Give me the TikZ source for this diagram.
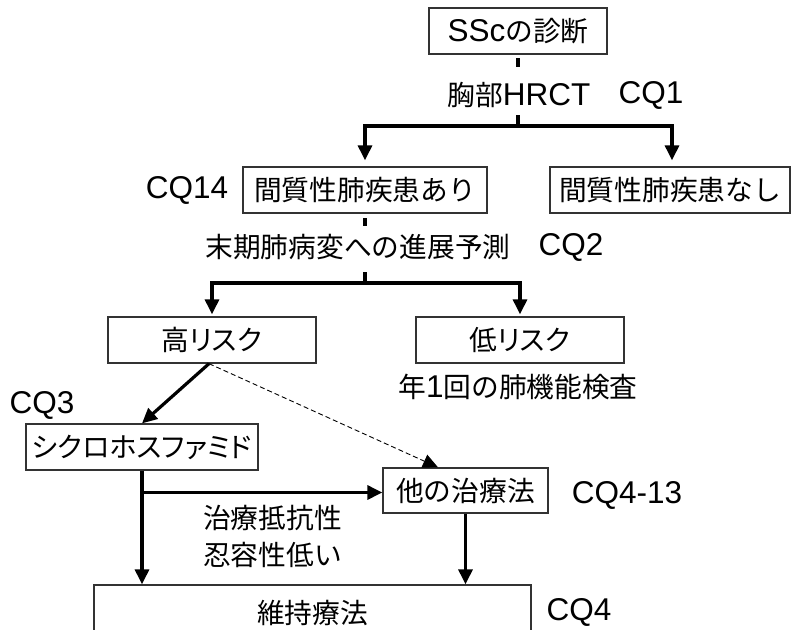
\documentclass[tikz,border=0pt]{standalone}
\usepackage{fontspec}
\setmainfont{Liberation Sans}
\newfontfamily\jp[Scale=0.88]{Noto Sans CJK JP}
\newfontfamily\jpp[Scale=0.88,RawFeature=+palt]{Noto Sans CJK JP}
\usetikzlibrary{arrows.meta}
\begin{document}
\begin{tikzpicture}[x=1pt,y=-1pt,
  every node/.style={font=\fontsize{31.5}{37}\selectfont, inner sep=0pt},
  box/.style={draw=black!80, line width=1.3pt, minimum height=46pt},
  conn/.style={line width=3.2pt, -{Triangle[length=15pt,width=14pt]}},
  tick/.style={line width=3.2pt},
  hint/.style={line width=0.9pt, dash pattern=on 5pt off 3pt, -{Triangle[length=15pt,width=14pt]}},
]
\useasboundingbox (0,0) rectangle (792,629);

% boxes and labels
\node[box, minimum width=178pt] (ssc) at (518,31) {SSc{\jp の診断}};
\node (hrct) at (519,95) {{\jp 胸部}HRCT};
\node (cq1) at (651,95) {CQ1};
\node[box, minimum width=244pt] (ari) at (365,190) {\jp 間質性肺疾患あり};
\node[box, minimum width=240pt] (nashi) at (670,190) {\jp 間質性肺疾患なし};
\node (cq14) at (187,190) {CQ14};
\node (prog) at (358,247) {\jp 末期肺病変への進展予測};
\node (cq2) at (571,247) {CQ2};
\node[box, minimum width=208pt] (high) at (212,340) {\jpp 高リスク};
\node[box, minimum width=208pt] (low) at (520,340) {\jpp 低リスク};
\node (annual) at (518,387) {{\jp 年}1{\jp 回の肺機能検査}};
\node (cq3) at (42,405) {CQ3};
\node[box, minimum width=232pt] (cyc) at (142,447) {\jpp シクロホスファミド};
\node[box, minimum width=165pt, minimum height=45pt] (other) at (465.5,490.5) {\jp 他の治療法};
\node (cq413) at (627,495) {CQ4-13};
\node[align=left, anchor=west, font={\fontsize{31.5}{37}\selectfont\jp}] (refr) at (203,536) {治療抵抗性\\忍容性低い};
\node[box, minimum width=437pt, minimum height=55pt] (maint) at (312.5,612.5) {\jp 維持療法};
\node (cq4) at (579,612) {CQ4};

% junction points of the branching connectors
\coordinate (t1a) at (518,58);
\coordinate (t1b) at (518,67);
\coordinate (t2a) at (518,115);
\coordinate (j1) at (518,126);
\coordinate (t3a) at (365,218);
\coordinate (t3b) at (365,226);
\coordinate (t4a) at (365,272);
\coordinate (j2) at (365,283);

% connectors
\draw[tick] (t1a) -- (t1b);
\draw[tick] (t2a) -- (j1);
\draw[conn, shorten >=6pt] (j1) -| (ari.north);
\draw[conn, shorten >=6pt] (j1) -| ([xshift=2pt]nashi.north);
\draw[tick] (t3a) -- (t3b);
\draw[tick] (t4a) -- (j2);
\draw[conn, shorten >=2pt] (j2) -| (high.north);
\draw[conn, shorten >=2pt] (j2) -| (low.north);
\draw[conn] ([xshift=-3pt]high.south) -- (cyc.north);
\draw[hint] ([xshift=-3pt]high.south) -- ([xshift=-27.5pt]other.north);
\draw[conn] (cyc.south) -- (cyc.south |- maint.north);
\draw[conn] ([yshift=-2pt]cyc.south |- other.west) -- ([yshift=-2pt]other.west);
\draw[conn] (other.south) -- (other.south |- maint.north);
\end{tikzpicture}
\end{document}
